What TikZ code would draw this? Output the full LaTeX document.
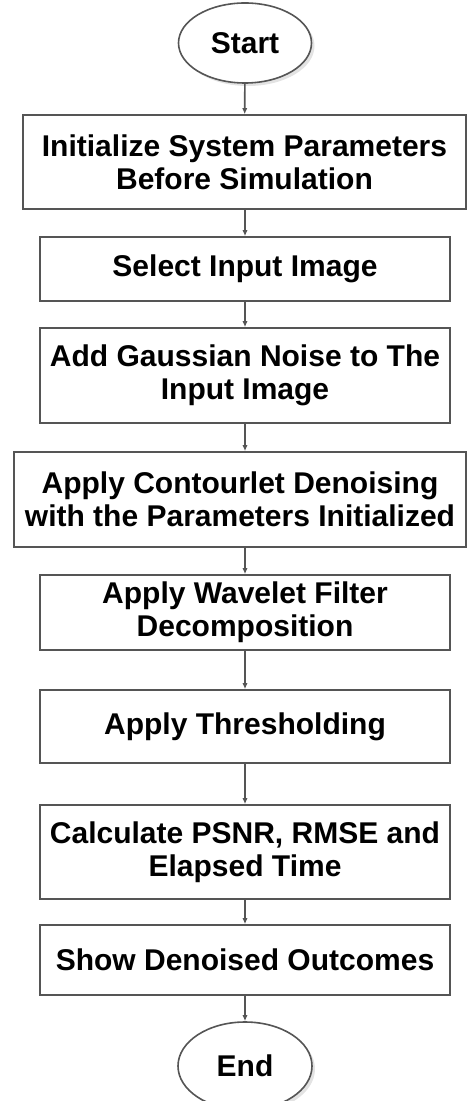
\documentclass[tikz,border=0pt]{standalone}
\usepackage{fontspec}
\setmainfont{Liberation Sans}
\usepackage{tikz}
\usetikzlibrary{arrows.meta,shapes.geometric,shadows}
\definecolor{lineclr}{HTML}{555555}
\definecolor{shadowclr}{HTML}{C8C8C8}

\begin{document}
\begin{tikzpicture}[x=0.5pt,y=-0.5pt,>={Latex[length=3pt,width=2.6pt]},
    font=\bfseries\fontsize{15}{16.5}\selectfont,
    stepbox/.style={draw=lineclr,line width=0.8pt,fill=white,inner sep=0pt,
      align=center},
    terminal/.style={ellipse,draw=lineclr,line width=0.8pt,fill=white,
      inner sep=0pt,minimum width=66.5pt,minimum height=40pt,
      drop shadow={shadow xshift=1.5pt,shadow yshift=-1.5pt,fill=shadowclr}},
    flow/.style={->,lineclr,line width=0.8pt}]
  \useasboundingbox (0,0) rectangle (467,1101);

  % Terminals
  \node[terminal] (start) at (245,43) {Start};
  \node[terminal,minimum width=67pt,minimum height=44pt] (end) at (245,1066) {End};

  % Processing steps
  \node[stepbox,minimum width=221.5pt,minimum height=47pt] (init) at (244.5,162)
    {Initialize System Parameters\\Before Simulation};
  \node[stepbox,minimum width=205pt,minimum height=32pt] (select) at (245,269)
    {Select Input Image};
  \node[stepbox,minimum width=205pt,minimum height=47.5pt] (noise) at (245,375.5)
    {Add Gaussian Noise to The\\Input Image};
  \node[stepbox,minimum width=226pt,minimum height=47.5pt] (contour) at (240,499.5)
    {Apply Contourlet Denoising\\with the Parameters Initialized};
  \node[stepbox,minimum width=205pt,minimum height=37.5pt] (wavelet) at (245,612.5)
    {Apply Wavelet Filter\\Decomposition};
  \node[stepbox,minimum width=205pt,minimum height=36.5pt] (thresh) at (245,726.5)
    {Apply Thresholding};
  \node[stepbox,minimum width=205pt,minimum height=47pt] (calc) at (245,852)
    {Calculate PSNR, RMSE and\\Elapsed Time};
  \node[stepbox,minimum width=205pt,minimum height=35pt] (show) at (245,960)
    {Show Denoised Outcomes};

  % Connectors
  \draw[flow] (start) -- (init);
  \draw[flow] (init.south -| select.north) -- (select);
  \draw[flow] (select) -- (noise);
  \draw[flow] (noise.south) -- (noise.south |- contour.north);
  \draw[flow] (noise.south |- contour.south) -- (wavelet.north);
  \draw[flow] (wavelet) -- (thresh);
  \draw[flow] (thresh) -- (calc);
  \draw[flow] (calc) -- (show);
  \draw[flow] (show) -- (end);
\end{tikzpicture}
\end{document}
